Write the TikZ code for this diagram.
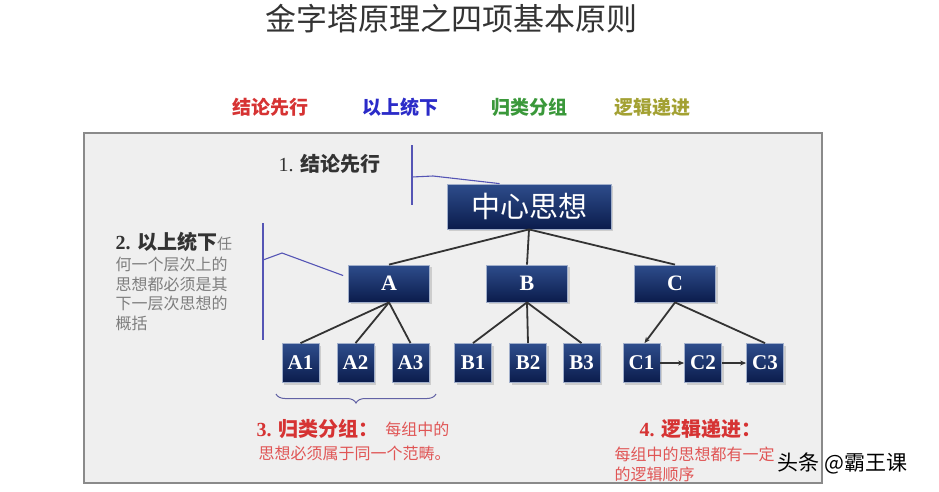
\documentclass[tikz,border=0pt]{standalone}
\usepackage{fontspec}
\setmainfont{Liberation Serif}
\newfontfamily\cjk{Noto Sans CJK SC}
\usepackage{tikz}
\usetikzlibrary{arrows.meta,shadows,decorations.pathreplacing,positioning}
\definecolor{boxtop}{HTML}{2E4D8C}
\definecolor{boxbot}{HTML}{0B1C4C}
\definecolor{linkcol}{HTML}{333333}
\definecolor{notecol}{HTML}{5555B5}
\definecolor{panel}{HTML}{EFEFEF}
\definecolor{panelline}{HTML}{8A8A8A}
\definecolor{darktxt}{HTML}{333333}
\definecolor{graytxt}{HTML}{7E7E7E}
\definecolor{redtxt}{HTML}{D63333}
\definecolor{lightred}{HTML}{E05555}
\definecolor{bluetxt}{HTML}{2B2BC8}
\definecolor{greentxt}{HTML}{3A983A}
\definecolor{olivetxt}{HTML}{A3A133}
\newcommand\setfs[1]{\fontsize{#1}{#1}\selectfont}

\begin{document}
\begin{tikzpicture}[x=1pt,y=-1pt,
  idea/.style={draw=white!55!boxtop,line width=0.8pt,top color=boxtop,bottom color=boxbot,text=white,inner sep=0pt,
    drop shadow={opacity=0.3,shadow xshift=2pt,shadow yshift=-2pt}},
  mid/.style={idea,minimum width=81pt,minimum height=37pt,font=\bfseries\setfs{22}},
  leaf/.style={idea,minimum width=37pt,minimum height=39pt,font=\bfseries\setfs{21}},
  link/.style={draw=linkcol,line width=1.8pt},
  note/.style={draw=notecol,line width=1.1pt},
  keyword/.style={font=\cjk\bfseries\setfs{19}},
  small/.style={anchor=west,align=left,font=\cjk\fontsize{16}{19.5}\selectfont}]
\useasboundingbox (0,0) rectangle (939,491);
\node[font=\cjk\setfs{31},text=darktxt] (title) at (451,19) {金字塔原理之四项基本原则};
\node[keyword,text=redtxt] (kw1) at (270,107) {结论先行};
\node[keyword,text=bluetxt] (kw2) at (400,107) {以上统下};
\node[keyword,text=greentxt] (kw3) at (529,107) {归类分组};
\node[keyword,text=olivetxt] (kw4) at (652,107) {逻辑递进};
\draw[fill=panel,draw=panelline,line width=1.5pt] (84,133) rectangle (822,483);

\node[idea,minimum width=164pt,minimum height=45pt,font=\cjk\setfs{29}] (main) at (529,206.5) {中心思想};
\node[mid] (A) at (389,283.5) {A};
\node[mid] (B) at (527,283.5) {B};
\node[mid] (C) at (675,283.5) {C};
\foreach \n/\x in {A1/300.5,A2/355.5,A3/410.5,B1/473,B2/528,B3/581.5,C1/641.5,C2/703,C3/765}
  \node[leaf] (\n) at (\x,363) {\n};
\foreach \p/\c in {main/A,main/B,main/C,A/A1,A/A2,A/A3,B/B1,B/B2,B/B3,C/C3}
  \draw[link] (\p.south) -- (\c.north);
\draw[link,-{Stealth[length=6pt,width=5pt]}] (C.south) -- ([xshift=3pt]C1.north);
\draw[link,-{Stealth[length=6pt,width=5pt]}] (C1) -- (C2);
\draw[link,-{Stealth[length=6pt,width=5pt]}] (C2) -- (C3);

\node[anchor=west,font=\setfs{20},text=darktxt] (t1) at (275,164) {1. {\cjk\bfseries 结论先行}};
\draw[note] (412,145) -- (412,205);
\coordinate (n1) at (412,177);
\draw[note] (n1) -- ++(21,-1) -- ([xshift=53pt]main.north west);

\node[anchor=west,font=\bfseries\setfs{20},text=darktxt] (t2) at (112,242) {2. {\cjk 以上统下}{\cjk\mdseries\setfs{15}\color{graytxt}任}};
\node[small,text=graytxt] (t2b) at (112,294) {何一个层次上的\\思想都必须是其\\下一层次思想的\\概括};
\draw[note] (263,223) -- (263,340);
\coordinate (n2) at (263,260);
\draw[note] (n2) -- ++(19,-7) -- ([shift={(-5pt,8pt)}]A.west);

\draw[draw=notecol!70!gray,line width=1pt,decorate,decoration={brace,amplitude=9pt}] (436,394) -- (276,394);
\node[anchor=west,font=\bfseries\setfs{20},text=redtxt] (t3) at (253,429) {3. {\cjk 归类分组：}};
\node[small,text=lightred,right=0pt of t3] (t3b) {每组中的};
\node[small,text=lightred] (t3c) at (255,453) {思想必须属于同一个范畴。};

\node[anchor=west,font=\bfseries\setfs{20},text=redtxt] (t4) at (636,429) {4. {\cjk 逻辑递进：}};
\node[small,text=lightred] (t4b) at (611,464.5) {每组中的思想都有一定\\的逻辑顺序};

\node[anchor=west,font=\cjk\setfs{21}] (wm) at (774,463) {头条 @霸王课};
\end{tikzpicture}
\end{document}
